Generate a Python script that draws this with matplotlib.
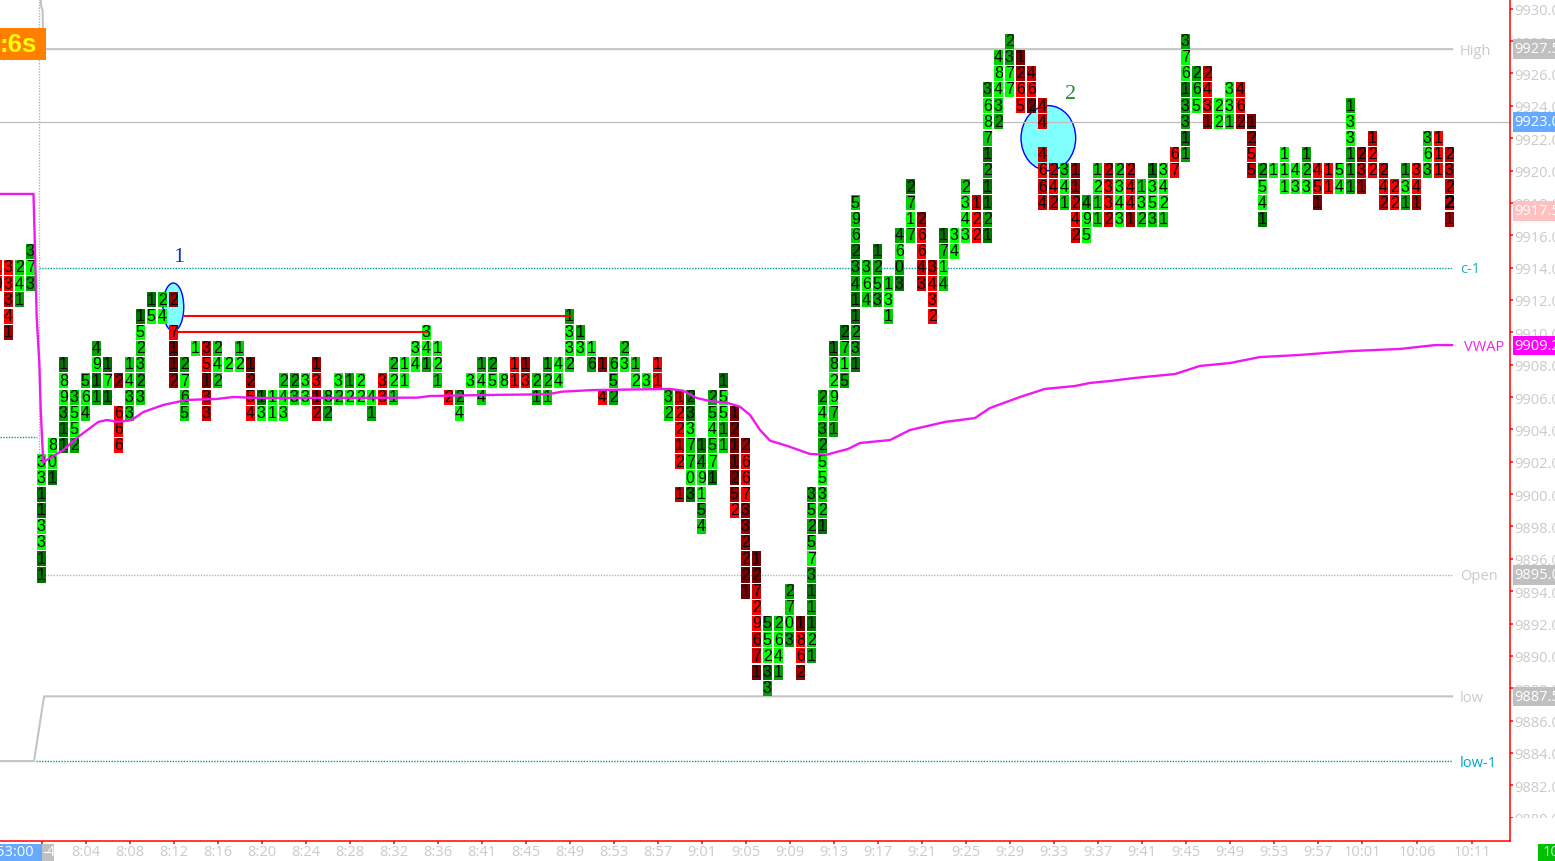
import matplotlib
matplotlib.use("Agg")
import matplotlib.pyplot as plt
from matplotlib.patches import Ellipse, Rectangle
from matplotlib.transforms import ScaledTranslation

# ---------------- data ----------------
first_column = -4
column_tops = [
    9914, 9914, 9914, 9915, 9902, 9903, 9908, 9906, 9907, 9909, 9908, 9907, 9908, 9911, 9912, 9912,
    9912, 9908, 9909, 9909, 9909, 9908, 9909, 9908, 9906, 9906, 9907, 9907, 9907, 9908, 9906, 9907,
    9907, 9907, 9906, 9907, 9908, 9908, 9909, 9910, 9909, 9906, 9906, 9907, 9908, 9908, 9907, 9908,
    9908, 9907, 9908, 9908, 9911, 9910, 9909, 9908, 9908, 9909, 9908, 9907, 9908, 9906, 9906, 9906,
    9903, 9906, 9907, 9905, 9903, 9896, 9892, 9892, 9894, 9892, 9900, 9906, 9909, 9910, 9918, 9914,
    9915, 9913, 9916, 9919, 9917, 9914, 9916, 9916, 9919, 9918, 9925, 9927, 9928, 9927, 9926, 9924,
    9920, 9920, 9920, 9918, 9920, 9920, 9920, 9920, 9919, 9920, 9920, 9921, 9928, 9926, 9926, 9924,
    9925, 9925, 9923, 9920, 9920, 9921, 9920, 9921, 9920, 9920, 9920, 9924, 9921, 9922, 9920, 9919,
    9920, 9920, 9922, 9922, 9921,
]
column_digits = [
    "19", "33341", "241", "373", "33113311", "801", "189311", "3552", "564", "4911", "171", "2 666",
    "1433", "152323", "15", "24", "2 7112", "2765", "1", "35133", "242", "2", "12", "1254",
    "13", "11", "243", "23", "33", "1312", "82", "32", "12", "22", "41", "33",
    "221", "11", "34", "341", "121", "2", "24", "3", "144", "25", "8", "11",
    "13", "21", "121", "44", "1332", "13", "16", "1 4", "652", "23", "12", "3",
    "11", "32", "12212 1", "2337703", "149154", "254571", "15511", "1211252", "2667332221", "12729671", "55233", "2641",
    "2703", "1862", "35257311121", "243255321", "182971", "2715", "59623411231", "364", "1253", "131", "4603", "2717",
    "26643", "3432", "1714", "34", "2343", "122", "3687121121", "48432", "2377", "1265", "462", "44 4664",
    "242", "341", "11242", "495", "1211", "2332", "2343", "2441", "132", "1353", "3421", "67",
    "37613311", "265", "2431", "22", "331", "462", "1255", "2541", "1", "111", "43", "123",
    "451", "11", "54", "133111", "231", "122", "242", "22", "131", "341", "363", "111", "23221",
]
column_shades = [
    "EE", "EEFEG", "BAC", "CAC", "AADDAADD", "AAD", "DAACDD", "BAAC", "BAB", "CADC", "DAD", "G EEE",
    "BABB", "DABBCB", "DA", "BA", "G EHHG", "CABB", "A", "FEHFF", "BAB", "A", "BA", "HGEE",
    "DA", "AA", "BAA", "CB", "AA", "GEGF", "BC", "AB", "CA", "AA", "AC", "EE",
    "BAB", "AA", "AA", "AAC", "AAB", "E", "CA", "A", "CAB", "CA", "A", "EE",
    "GE", "BC", "CBB", "AA", "CAAB", "CA", "AC", "G E", "BBC", "BA", "BA", "A",
    "EE", "BB", "FEEFE F", "DDABBAD", "DCAACB", "CBABAD", "DAACB", "HHHHHGE", "GEEEGGGGHH", "HHFEEFFH", "CAADC", "BAAC",
    "CBAC", "HEEG", "CBCBACDCDBC", "CACCAABBD", "DBAABC", "DBAC", "BBBDCCDDCCD", "BAB", "DCBC", "BAB", "CACD", "DBAB",
    "GEEFF", "FEEE", "DBAB", "AA", "BAAA", "FEE", "CAABDCDDCD", "BAABC", "CCAA", "HGEE", "FEH", "FF FEFF",
    "FEF", "BAB", "GGFEF", "CAA", "BABB", "FEEF", "BAAA", "FEEG", "BAB", "DAAB", "AAAB", "EE",
    "CAADCCDC", "CBA", "FEEG", "AA", "AAB", "FEG", "HGEF", "CAAD", "A", "AAA", "AA", "CBA",
    "EEH", "EE", "AA", "CAACCC", "GFG", "FEE", "FEF", "EE", "CAC", "EEG", "BAB", "EEE", "FFFFG",
]
bold_cell = (128, 9918)

vwap_cols = [-3.75, -0.71, -0.62, -0.42, -0.18, -0.05, 0.09, 0.18, 2.0, 3.22, 5.18, 5.95, 7.0, 8.22, 9.27,
             11.09, 13.22, 15.95, 17.45, 19.88, 34.13, 35.34, 39.88, 46.06, 47.31, 50.15, 57.15, 58.34,
             59.58, 60.79, 62.31, 63.52, 64.43, 65.34, 66.25, 67.76, 69.88, 71.4, 73.34, 74.43, 77.16,
             78.97, 82.15, 84.88, 86.24, 88.97, 91.24, 93.97, 95.34, 97.15, 99.43, 103.06, 105.33,
             108.06, 110.79, 114.43, 118.97, 123.52, 126.7, 128.25]
vwap_prices = [9918.55, 9918.55, 9916.32, 9910.95, 9908.10, 9905.20, 9903.16, 9901.98, 9902.73, 9903.47,
               9904.46, 9904.58, 9904.46, 9904.58, 9905.07, 9905.51, 9905.82, 9905.88, 9906.0, 9905.94,
               9905.96, 9906.06, 9906.12, 9906.17, 9906.33, 9906.43, 9906.50, 9906.39, 9905.94, 9905.75,
               9905.65, 9905.40, 9904.89, 9903.96, 9903.30, 9902.99, 9902.48, 9902.44, 9902.79, 9903.16,
               9903.34, 9903.96, 9904.46, 9904.70, 9905.32, 9906.0, 9906.50, 9906.68, 9906.87, 9906.99,
               9907.18, 9907.42, 9907.92, 9908.10, 9908.47, 9908.60, 9908.84, 9908.97, 9909.21, 9909.21]

high_cols = [-0.05, -0.02, 0.12, 0.17, 128.25]
high_prices = [9930.6, 9930.2, 9929.9, 9927.5, 9927.5]
low_cols = [-3.75, -0.66, 0.25, 128.25]
low_prices = [9883.5, 9883.5, 9887.5, 9887.5]

red_level_starts = [13.05, 12.4]
red_level_ends = [48.1, 35.1]
red_level_prices = [9911, 9910]

tick_columns = [0, 4, 8, 12, 16, 20, 24, 28, 32, 36, 40, 44, 48, 52, 56, 60, 64, 68, 72, 76, 80, 84, 88, 92,
                96, 100, 104, 108, 112, 116, 120, 125, 130]
tick_times = ["", "8:04", "8:08", "8:12", "8:16", "8:20", "8:24", "8:28", "8:32", "8:36", "8:41", "8:45",
              "8:49", "8:53", "8:57", "9:01", "9:05", "9:09", "9:13", "9:17", "9:21", "9:25", "9:29", "9:33",
              "9:37", "9:41", "9:45", "9:49", "9:53", "9:57", "10:01", "10:06", "10:11"]
price_ticks = list(range(9880, 9931, 2))

# ---------------- style ----------------
W, H = 1555, 861
PLOT_R, PLOT_B = 1509.5, 840.5
X0, DX = 41.3, 11.0
Y0, DY = 575.0, 16.18
shade_colors = {"A": "#00FF00", "B": "#00D000", "C": "#00A400", "D": "#007400",
                "E": "#FF0000", "F": "#CC0000", "G": "#9C0000", "H": "#760000"}
GREY = "#C4C4C4"
LABEL = "#CACACA"
TEAL = "#009C9C"
DOT = (0, (1, 1))
UI = "Open Sans"
UI_SIZE = 10.5

fig = plt.figure(figsize=(W / 100, H / 100), dpi=100, facecolor="white")
ax = fig.add_axes([0, 1 - PLOT_B / H, PLOT_R / W, PLOT_B / H])
ax.set_xlim(-X0 / DX, (PLOT_R - X0) / DX)
ax.set_ylim(9895 - (PLOT_B - Y0) / DY, 9895 + Y0 / DY)
ax.set_axisbelow(True)
for side in ("top", "left"):
    ax.spines[side].set_visible(False)
for side in ("right", "bottom"):
    ax.spines[side].set_color("#FF0000")
    ax.spines[side].set_linewidth(1.1)
ax.yaxis.tick_right()
ax.set_yticks(price_ticks)
ax.set_yticklabels([f"{p:.1f}" for p in price_ticks])
ax.set_xticks([c + 0.09 for c in tick_columns])
ax.set_xticklabels(tick_times)
ax.tick_params(axis="both", color="#FF0000", labelcolor=LABEL, length=2.4, width=1.1, labelsize=UI_SIZE)
ax.tick_params(axis="y", pad=1.0)
ax.tick_params(axis="x", pad=1.0)
nudge = ScaledTranslation(0, -1 / 72 * 0.72, fig.dpi_scale_trans)
for lab in ax.get_xticklabels() + ax.get_yticklabels():
    lab.set_fontfamily(UI)
for lab in ax.get_yticklabels():
    lab.set_transform(lab.get_transform() + nudge)

# annotation ellipses
for cx, cy, ew, eh in [(12.0, 9911.56, 1.9, 2.97), (91.55, 9922.0, 4.97, 4.02)]:
    ax.add_patch(Ellipse((cx, cy), ew, eh, facecolor="#80FFFF", edgecolor="#0000FF", linewidth=1.0, zorder=1))

# reference lines
xl = ax.get_xlim()
ax.plot(xl, [9923, 9923], color="#BEBEBE", lw=0.9, zorder=2)
ax.plot(high_cols, high_prices, color=GREY, lw=1.5, zorder=2)
ax.plot(low_cols, low_prices, color=GREY, lw=1.5, zorder=2)
ax.plot([-0.25, 128.25], [9914, 9914], color=TEAL, lw=1.0, ls=DOT, zorder=2)
ax.plot([-3.75, -0.4], [9903.5, 9903.5], color=TEAL, lw=1.0, ls=DOT, zorder=2)
ax.plot([-0.45, 128.25], [9883.5, 9883.5], color=TEAL, lw=1.0, ls=DOT, zorder=2)
ax.plot([0.1, 128.25], [9895, 9895], color="#B4B4B4", lw=1.0, ls=DOT, zorder=2)
ax.plot([-0.25, -0.25], [9895, 9931], color="#B4B4B4", lw=1.0, ls=DOT, zorder=2)

# footprint cells
for i, top in enumerate(column_tops):
    col = first_column + i
    for k, (d, s) in enumerate(zip(column_digits[i], column_shades[i])):
        if d == " ":
            continue
        price = top - k
        ax.bar(col, 15 / DY, width=9 / DX, bottom=price - 7.5 / DY, color=shade_colors[s], linewidth=0, zorder=3)
        is_bold = (col, price) == bold_cell
        ax.text(col, price - 0.02, d, ha="center", va="center", color="#000000" if is_bold else "#0A0A0A",
                fontfamily="Liberation Sans", fontsize=13 if is_bold else 11.5,
                fontweight="bold" if is_bold else "normal", zorder=4)

# vwap and levels
ax.plot(vwap_cols, vwap_prices, color="#F018F0", lw=1.7, zorder=5)
for a, b, p in zip(red_level_starts, red_level_ends, red_level_prices):
    ax.plot([a, b], [p, p], color="#FF0000", lw=1.5, zorder=5)

# marker numbers
ax.text(12.5, 9914.6, "1", color="#0A3CB0", fontsize=16, fontfamily="Liberation Serif", ha="center", va="center", zorder=6)
ax.text(93.55, 9924.7, "2", color="#2A8A3A", fontsize=16, fontfamily="Liberation Serif", ha="center", va="center", zorder=6)

# series labels
for col, p, txt, colr in [(128.95, 9927.38, "High", LABEL), (128.95, 9913.88, "c-1", "#20B0B0"), (129.3, 9909.08, "VWAP", "#F020F0"),
                          (128.95, 9894.88, "Open", LABEL), (128.95, 9887.38, "low", LABEL), (128.95, 9883.38, "low-1", "#00A8C8")]:
    ax.text(col, p, txt, color=colr, fontsize=UI_SIZE, fontfamily=UI, ha="left", va="center", zorder=6)

# price boxes on right axis
ytrans = ax.get_yaxis_transform()
xf = lambda px: px / PLOT_R
ax.add_patch(Rectangle((xf(1511), 9877), xf(60), 9880 - 9877, transform=ytrans, facecolor="white",
                       edgecolor="none", clip_on=False, zorder=6))
for p, txt, bg in [(9927.5, "9927.5", "#C0C0C0"), (9923.0, "9923.0", "#66AAFF"), (9917.5, "9917.5", "#FFC0C0"),
                   (9909.2, "9909.2", "#FF00FF"), (9895.0, "9895.0", "#C0C0C0"), (9887.5, "9887.5", "#C0C0C0")]:
    ax.add_patch(Rectangle((xf(1513), p - 0.6), xf(50), 1.2, transform=ytrans, facecolor=bg, edgecolor="none",
                           clip_on=False, zorder=7))
    ax.text(xf(1514.2), p - 0.05, txt, transform=ytrans, color="white", fontsize=UI_SIZE, fontfamily=UI, ha="left",
            va="center", clip_on=False, zorder=8)


def box(x0, y0, x1, y1, color):
    fig.add_artist(Rectangle((x0 / W, 1 - y1 / H), (x1 - x0) / W, (y1 - y0) / H, transform=fig.transFigure,
                             facecolor=color, edgecolor="none", zorder=5))


def label(x, y, txt, color, ha="left", **kw):
    fig.text(x / W, 1 - y / H, txt, color=color, ha=ha, va="center", zorder=6, **kw)


box(0, 28, 46, 60, "#FF8000")
label(37, 45.5, ":6s", "#FFFF00", ha="right", fontsize=18.5, fontweight="bold", fontfamily="Liberation Sans")
box(0, 844, 42, 861, "#66AAFF")
label(34, 853, "53:00", "white", ha="right", fontsize=UI_SIZE, fontfamily=UI)
box(42, 844, 54, 861, "#C0C0C0")
label(42, 853, "-4", "white", fontsize=UI_SIZE, fontfamily=UI)
box(1538, 844, 1555, 861, "#00C000")
label(1543, 853, "10", "#C8E8C8", fontsize=UI_SIZE, fontfamily=UI)

fig.savefig("out.png", dpi=100, facecolor="white")
